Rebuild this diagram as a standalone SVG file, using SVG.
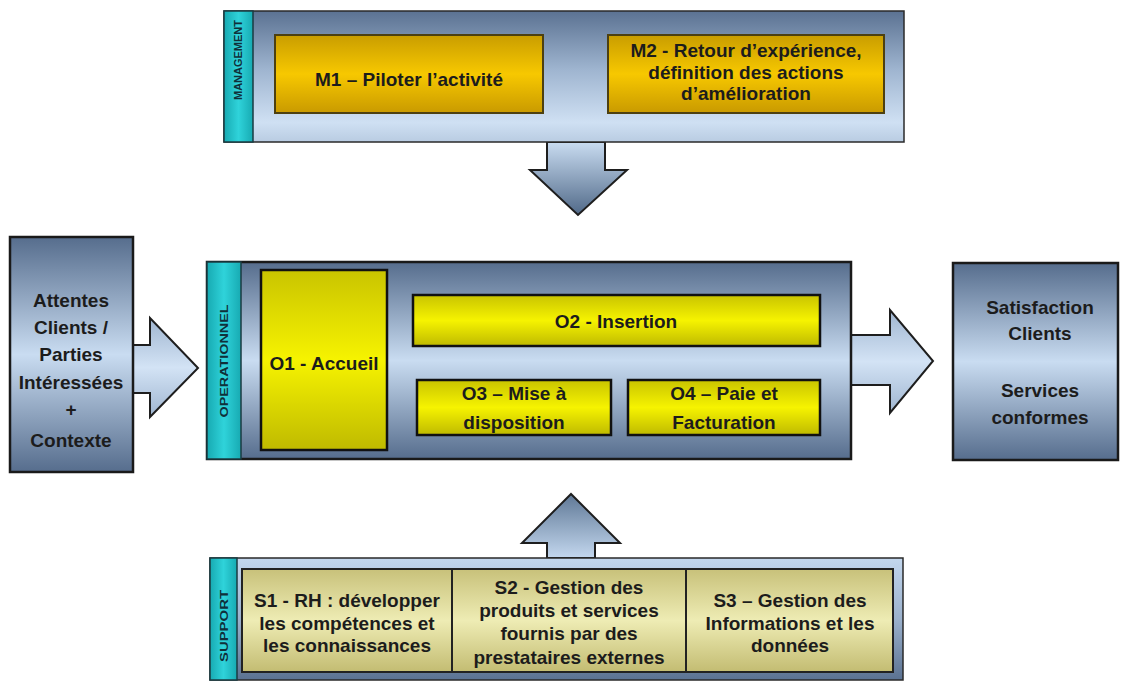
<svg xmlns="http://www.w3.org/2000/svg" width="1127" height="681" viewBox="0 0 1127 681">
<defs>
<linearGradient id="gMgmt" x1="0" y1="0" x2="0" y2="1">
<stop offset="0" stop-color="#5b7292"/><stop offset="0.45" stop-color="#9fb5d0"/><stop offset="0.85" stop-color="#cfe0f3"/><stop offset="1" stop-color="#b9cce2"/>
</linearGradient>
<linearGradient id="gBand" x1="0" y1="0" x2="0" y2="1">
<stop offset="0" stop-color="#566d8d"/><stop offset="0.5" stop-color="#c9dcf1"/><stop offset="1" stop-color="#566d8d"/>
</linearGradient>
<linearGradient id="gSup" x1="0" y1="0" x2="0" y2="1">
<stop offset="0" stop-color="#c3d7ee"/><stop offset="0.5" stop-color="#9bb1cc"/><stop offset="1" stop-color="#5b7292"/>
</linearGradient>
<linearGradient id="gDown" x1="0" y1="0" x2="0" y2="1">
<stop offset="0" stop-color="#c9dcf1"/><stop offset="1" stop-color="#506988"/>
</linearGradient>
<linearGradient id="gUp" x1="0" y1="0" x2="0" y2="1">
<stop offset="0" stop-color="#5f7896"/><stop offset="1" stop-color="#c3d7ee"/>
</linearGradient>
<linearGradient id="gSide" x1="0" y1="0" x2="0" y2="1">
<stop offset="0" stop-color="#9fb5d0"/><stop offset="0.5" stop-color="#d3e3f5"/><stop offset="1" stop-color="#9fb5d0"/>
</linearGradient>
<linearGradient id="gGold" x1="0" y1="0" x2="0" y2="1">
<stop offset="0" stop-color="#c99d00"/><stop offset="0.5" stop-color="#f7c800"/><stop offset="1" stop-color="#c99a00"/>
</linearGradient>
<linearGradient id="gYel" x1="0" y1="0" x2="0" y2="1">
<stop offset="0" stop-color="#c9c400"/><stop offset="0.5" stop-color="#f6f300"/><stop offset="1" stop-color="#bfba00"/>
</linearGradient>
<linearGradient id="gKhaki" x1="0" y1="0" x2="0" y2="1">
<stop offset="0" stop-color="#c8c17a"/><stop offset="0.5" stop-color="#eeecb4"/><stop offset="1" stop-color="#c3bc72"/>
</linearGradient>
<linearGradient id="gTeal" x1="0" y1="0" x2="1" y2="0">
<stop offset="0" stop-color="#17aab2"/><stop offset="0.5" stop-color="#2fd3da"/><stop offset="1" stop-color="#17aab2"/>
</linearGradient>
</defs>
<style>
.t{font-family:"Liberation Sans",Arial,sans-serif;font-weight:bold;font-size:19px;fill:#1c1c1c;text-anchor:middle;}
.v{font-family:"Liberation Sans",Arial,sans-serif;font-weight:bold;font-size:11px;fill:#10303a;text-anchor:middle;}
.bd{stroke:#1e1e1e;stroke-width:2;}
.teal{fill:url(#gTeal);stroke:#1a3b42;stroke-width:1.5;}
.gold{fill:url(#gGold);stroke:#4d4010;stroke-width:2;}
.yel{fill:url(#gYel);stroke:#111;stroke-width:2.5;}
.kh{fill:url(#gKhaki);stroke:#222;stroke-width:2;}
</style>
<rect width="1127" height="681" fill="#ffffff"/>

<g id="connectors">
<polygon points="547,142 605,142 605,170 627,170 578,215 530,170 547,170" fill="url(#gDown)" class="bd"/>
<polygon points="547,558 547,543 522,543 571,494 620,543 595,543 595,558" fill="url(#gUp)" class="bd"/>
<polygon points="133,345 150,345 150,318 198,368 150,417 150,393 133,393" fill="url(#gSide)" class="bd"/>
<polygon points="851,335 890,335 890,310 933,361 890,413 890,385 851,385" fill="url(#gSide)" class="bd"/>
</g>

<g id="management">
<rect x="224" y="11" width="680" height="131" fill="url(#gMgmt)" stroke="#2a2a2a" stroke-width="1.5"/>
<rect x="224" y="11" width="29" height="131" class="teal"/>
<text class="v" transform="translate(242,60) rotate(-90)" textLength="80" lengthAdjust="spacingAndGlyphs">MANAGEMENT</text>
</g>
<g id="m1">
<rect x="275" y="35" width="268" height="78" class="gold"/>
<text class="t" x="409" y="86">M1 – Piloter l’activité</text>
</g>
<g id="m2">
<rect x="608" y="35" width="276" height="78" class="gold"/>
<text class="t" x="746" y="57">M2 - Retour d’expérience,</text>
<text class="t" x="746" y="79">définition des actions</text>
<text class="t" x="746" y="100">d’amélioration</text>
</g>

<g id="attentes">
<rect x="10" y="237" width="123" height="235" fill="url(#gBand)" stroke="#1a1a1a" stroke-width="2.5"/>
<text class="t" x="71" y="307">Attentes</text>
<text class="t" x="71" y="334">Clients /</text>
<text class="t" x="71" y="361">Parties</text>
<text class="t" x="71" y="389">Intéressées</text>
<text class="t" x="71" y="416">+</text>
<text class="t" x="71" y="447">Contexte</text>
</g>

<g id="operationnel">
<rect x="207" y="262" width="644" height="197" fill="url(#gBand)" stroke="#1a1a1a" stroke-width="2.5"/>
<rect x="207" y="262" width="34" height="197" class="teal"/>
<text class="v" transform="translate(228,361) rotate(-90)" textLength="113" lengthAdjust="spacingAndGlyphs">OPERATIONNEL</text>
</g>
<g id="o1">
<rect x="261" y="270" width="126" height="180" class="yel"/>
<text class="t" x="324" y="370">O1 - Accueil</text>
</g>
<g id="o2">
<rect x="413" y="295" width="407" height="51" class="yel"/>
<text class="t" x="616" y="328">O2 - Insertion</text>
</g>
<g id="o3">
<rect x="417" y="380" width="194" height="55" class="yel"/>
<text class="t" x="514" y="400">O3 – Mise à</text>
<text class="t" x="514" y="429">disposition</text>
</g>
<g id="o4">
<rect x="628" y="380" width="192" height="55" class="yel"/>
<text class="t" x="724" y="400">O4 – Paie et</text>
<text class="t" x="724" y="429">Facturation</text>
</g>

<g id="satisfaction">
<rect x="953" y="263" width="165" height="197" fill="url(#gBand)" stroke="#1a1a1a" stroke-width="2.5"/>
<text class="t" x="1040" y="314">Satisfaction</text>
<text class="t" x="1040" y="340">Clients</text>
<text class="t" x="1040" y="397">Services</text>
<text class="t" x="1040" y="424">conformes</text>
</g>

<g id="support">
<rect x="210" y="558" width="693" height="122" fill="url(#gSup)" stroke="#2a2a2a" stroke-width="1.5"/>
<rect x="210" y="558" width="27" height="122" class="teal"/>
<text class="v" transform="translate(228,626) rotate(-90)" textLength="72" lengthAdjust="spacingAndGlyphs">SUPPORT</text>
</g>
<g id="s1">
<rect x="242" y="569" width="210" height="103" class="kh"/>
<text class="t" x="347" y="607">S1 - RH : développer</text>
<text class="t" x="347" y="630">les compétences et</text>
<text class="t" x="347" y="652">les connaissances</text>
</g>
<g id="s2">
<rect x="452" y="569" width="234" height="103" class="kh"/>
<text class="t" x="569" y="594">S2 - Gestion des</text>
<text class="t" x="569" y="617">produits et services</text>
<text class="t" x="569" y="640">fournis par des</text>
<text class="t" x="569" y="664">prestataires externes</text>
</g>
<g id="s3">
<rect x="686" y="569" width="207" height="103" class="kh"/>
<text class="t" x="790" y="607">S3 – Gestion des</text>
<text class="t" x="790" y="630">Informations et les</text>
<text class="t" x="790" y="652">données</text>
</g>
</svg>
